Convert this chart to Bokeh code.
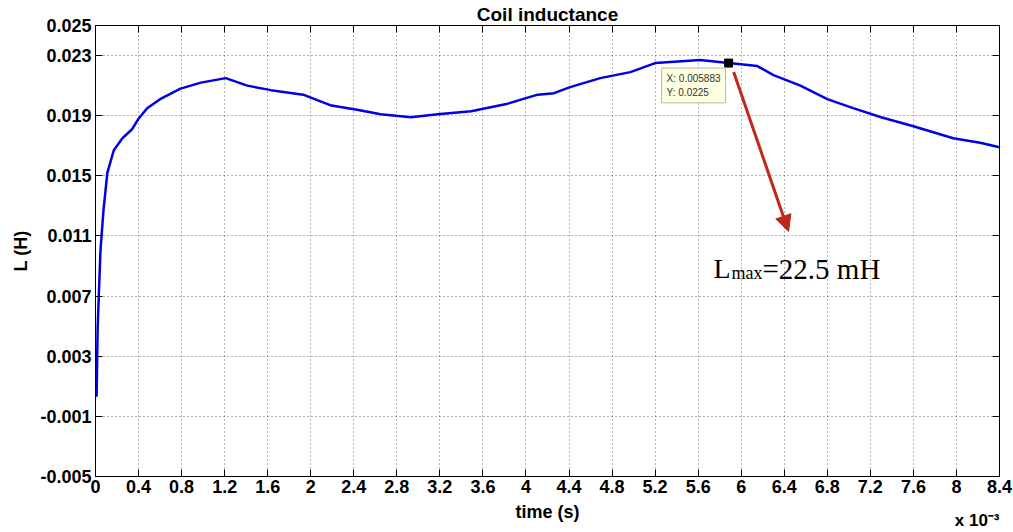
from bokeh.plotting import figure
from bokeh.models import (Range1d, FixedTicker, LinearAxis, Label, Arrow, NormalHead,
                          PrintfTickFormatter, CustomJSTickFormatter, Title)
from bokeh.embed import file_html
from bokeh.resources import INLINE

# ---- data (time in ms, i.e. x 10^-3 s; inductance in H) ----
time_ms = [0.01, 0.02, 0.03, 0.046, 0.074, 0.11, 0.17, 0.25, 0.34, 0.40, 0.48, 0.60,
           0.79, 0.98, 1.21, 1.41, 1.63, 1.93, 2.18, 2.43, 2.65, 2.93, 3.18, 3.49,
           3.83, 4.11, 4.26, 4.41, 4.69, 4.97, 5.20, 5.62, 5.883, 6.15, 6.30, 6.55,
           6.80, 7.04, 7.30, 7.60, 7.97, 8.22, 8.40]
inductance_H = [0.0003, 0.0049, 0.0069, 0.0100, 0.0127, 0.0152, 0.0167, 0.0175, 0.0181,
                0.0188, 0.0195, 0.0201, 0.0208, 0.0212, 0.0215, 0.0210, 0.0207, 0.0204,
                0.0197, 0.0194, 0.0191, 0.0189, 0.0191, 0.0193, 0.0198, 0.0204, 0.0205,
                0.0209, 0.0215, 0.0219, 0.0225, 0.0227, 0.0225, 0.0223, 0.0217, 0.0210,
                0.0201, 0.0195, 0.0189, 0.0183, 0.0175, 0.0172, 0.0169]
x_ticks = [0, 0.4, 0.8, 1.2, 1.6, 2, 2.4, 2.8, 3.2, 3.6, 4, 4.4, 4.8, 5.2, 5.6, 6,
           6.4, 6.8, 7.2, 7.6, 8, 8.4]
y_ticks = [-0.005, -0.001, 0.003, 0.007, 0.011, 0.015, 0.019, 0.023, 0.025]
tip_x = [5.883]
tip_y = [0.0225]
tip_text = "X: 0.005883\nY: 0.0225"
title_text = "Coil inductance"
exponent_text = "x 10\u207b\u00b3"
annot_main = "L"
annot_sub = "max"
annot_rest = "=22.5 mH"

FONT = "Liberation Sans"
SERIF = "Liberation Serif"

p = figure(width=1013, height=532, output_backend="svg", toolbar_location=None,
           x_range=Range1d(0, 8.4), y_range=Range1d(-0.005, 0.025),
           min_border_left=95, min_border_right=14, min_border_top=25,
           min_border_bottom=56, x_axis_label="time (s)", y_axis_label="L (H)",
           background_fill_color="white", border_fill_color="white")
p.outline_line_color = "black"
p.outline_line_width = 1

# title
p.title.text = title_text
p.title.align = "center"
p.title.text_font = FONT
p.title.text_font_style = "bold"
p.title.text_font_size = "19px"
p.title.text_color = "black"
p.title.standoff = 2
p.title.offset = 0

# axes
for ax in (p.xaxis[0], p.yaxis[0]):
    ax.major_tick_in = 7
    ax.major_tick_out = 0
    ax.minor_tick_line_color = None
    ax.axis_line_color = "black"
    ax.major_tick_line_color = "black"
    ax.major_label_text_font = FONT
    ax.major_label_text_font_style = "bold"
    ax.major_label_text_font_size = "18px"
    ax.major_label_text_color = "black"
    ax.axis_label_text_font = FONT
    ax.axis_label_text_font_style = "bold"
    ax.axis_label_text_font_size = "18px"
    ax.axis_label_text_color = "black"

p.xaxis[0].ticker = FixedTicker(ticks=x_ticks)
p.xaxis[0].formatter = CustomJSTickFormatter(code="return String(Number(tick.toFixed(1)));")
p.xaxis[0].major_label_standoff = 3
p.xaxis[0].axis_label_standoff = 6
p.yaxis[0].ticker = FixedTicker(ticks=y_ticks)
p.yaxis[0].formatter = PrintfTickFormatter(format="%.3f")
p.yaxis[0].major_label_standoff = 4
p.yaxis[0].axis_label_standoff = 6

# mirror axes (top/right) with inward ticks, no labels
blank = CustomJSTickFormatter(code="return '';")
top_ax = LinearAxis(ticker=FixedTicker(ticks=x_ticks), major_tick_in=7, major_tick_out=0,
                    minor_tick_line_color=None, formatter=blank,
                    major_label_standoff=0, axis_line_color="black")
right_ax = LinearAxis(ticker=FixedTicker(ticks=y_ticks), major_tick_in=7, major_tick_out=0,
                      minor_tick_line_color=None, formatter=blank,
                      major_label_standoff=0, axis_line_color="black")
p.add_layout(top_ax, "above")
p.add_layout(right_ax, "right")

# exponent marker for the time axis
p.add_layout(Title(text=exponent_text, align="right", vertical_align="top",
                   text_font=FONT, text_font_style="bold", text_font_size="17px",
                   text_color="black", standoff=-28, offset=0), "below")

# grid
for g in (p.xgrid[0], p.ygrid[0]):
    g.grid_line_color = "#444444"
    g.grid_line_dash = "1 3"
    g.grid_line_width = 1
    g.grid_line_alpha = 0.8
p.xgrid[0].ticker = FixedTicker(ticks=x_ticks)
p.ygrid[0].ticker = FixedTicker(ticks=y_ticks)

# curve
p.line(time_ms, inductance_H, line_color="#0000e6", line_width=2.5)

# datatip
p.scatter(tip_x, tip_y, marker="square", size=8, color="black")
p.add_layout(Label(x=tip_x[0], y=tip_y[0], x_offset=-67, y_offset=-5, text=tip_text,
                   text_font=FONT, text_font_size="10px", text_color="#333333",
                   text_align="left", text_baseline="top", text_line_height=1.25,
                   background_fill_color="#ffffe1", border_line_color="#b8b8a8",
                   padding=5))

# red arrow
p.add_layout(Arrow(x_start=5.93, y_start=0.0219, x_end=6.44, y_end=0.0113,
                   line_color="#c0281c", line_width=3,
                   end=NormalHead(size=16, fill_color="#c0281c", line_color="#c0281c")))

# annotation text (screen units relative to frame)
p.add_layout(Label(x=618, y=208, x_units="screen", y_units="screen", text=annot_main,
                   text_font=SERIF, text_font_size="28px", text_color="black",
                   text_baseline="alphabetic"))
p.add_layout(Label(x=636, y=204, x_units="screen", y_units="screen", text=annot_sub,
                   text_font=SERIF, text_font_size="18px", text_color="black",
                   text_baseline="alphabetic"))
p.add_layout(Label(x=667, y=208, x_units="screen", y_units="screen", text=annot_rest,
                   text_font=SERIF, text_font_size="29px", text_color="black",
                   text_baseline="alphabetic"))

open("out.html", "w").write(file_html(p, INLINE))
